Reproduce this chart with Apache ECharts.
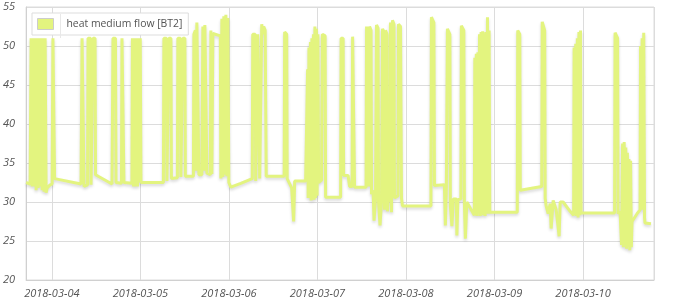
<!DOCTYPE html>
<html>
<head>
<meta charset="utf-8">
<script src="https://cdn.jsdelivr.net/npm/echarts@6/dist/echarts.min.js"></script>
<style>
html,body{margin:0;padding:0;background:#fff;}
#chart{width:680px;height:300px;}
</style>
</head>
<body>
<div id="chart"></div>
<script>
var seriesName = 'heat medium flow [BT2]';
var yTicks = [20, 25, 30, 35, 40, 45, 50, 55];
var xRange = ['2018-03-03 17:02', '2018-03-10 19:14'];

var flowTimes = [
'2018-03-03 17:02','2018-03-03 18:07','2018-03-03 18:23','2018-03-03 18:39','2018-03-03 18:56','2018-03-03 19:12','2018-03-03 19:28','2018-03-03 19:45','2018-03-03 20:01','2018-03-03 20:17','2018-03-03 20:33','2018-03-03 20:50','2018-03-03 21:06','2018-03-03 21:22','2018-03-03 21:38','2018-03-03 21:54','2018-03-03 22:11','2018-03-03 22:27','2018-03-03 22:43','2018-03-03 23:32',
'2018-03-04 00:05','2018-03-04 00:18','2018-03-04 00:34','2018-03-04 00:45','2018-03-04 07:55','2018-03-04 08:12','2018-03-04 08:36','2018-03-04 08:44','2018-03-04 09:41','2018-03-04 09:49','2018-03-04 10:30','2018-03-04 10:38','2018-03-04 11:02','2018-03-04 11:10','2018-03-04 11:43','2018-03-04 11:51','2018-03-04 16:19','2018-03-04 16:35','2018-03-04 17:15','2018-03-04 17:24','2018-03-04 18:53','2018-03-04 19:01','2018-03-04 19:25','2018-03-04 19:33','2018-03-04 21:43','2018-03-04 21:51','2018-03-04 22:08','2018-03-04 22:24','2018-03-04 22:40','2018-03-04 22:56','2018-03-04 23:13','2018-03-04 23:29','2018-03-04 23:45','2018-03-04 23:58',
'2018-03-05 00:10','2018-03-05 06:15','2018-03-05 06:23','2018-03-05 07:04','2018-03-05 07:12','2018-03-05 07:36','2018-03-05 07:44','2018-03-05 08:17','2018-03-05 08:25','2018-03-05 10:02','2018-03-05 10:10','2018-03-05 10:51','2018-03-05 10:59','2018-03-05 11:23','2018-03-05 11:31','2018-03-05 12:04','2018-03-05 12:12','2018-03-05 14:23','2018-03-05 14:31','2018-03-05 14:55','2018-03-05 15:03','2018-03-05 15:19','2018-03-05 15:44','2018-03-05 15:52','2018-03-05 16:40','2018-03-05 16:57','2018-03-05 17:13','2018-03-05 17:29','2018-03-05 17:54','2018-03-05 18:02','2018-03-05 18:59','2018-03-05 19:07','2018-03-05 19:23','2018-03-05 19:39','2018-03-05 21:41','2018-03-05 21:49','2018-03-05 22:06','2018-03-05 22:22','2018-03-05 22:38','2018-03-05 22:54','2018-03-05 23:11','2018-03-05 23:27','2018-03-05 23:43','2018-03-05 23:59',
'2018-03-06 00:31','2018-03-06 03:13','2018-03-06 06:20','2018-03-06 06:28','2018-03-06 07:08','2018-03-06 07:16','2018-03-06 07:41','2018-03-06 07:49','2018-03-06 08:13','2018-03-06 08:21','2018-03-06 08:46','2018-03-06 08:54','2018-03-06 09:10','2018-03-06 09:26','2018-03-06 09:50','2018-03-06 10:07','2018-03-06 14:59','2018-03-06 15:07','2018-03-06 15:40','2018-03-06 15:48','2018-03-06 17:01','2018-03-06 17:33','2018-03-06 17:50','2018-03-06 20:48','2018-03-06 21:12','2018-03-06 21:20','2018-03-06 21:29','2018-03-06 21:42','2018-03-06 21:53','2018-03-06 22:06','2018-03-06 22:17','2018-03-06 22:30','2018-03-06 22:42','2018-03-06 22:55','2018-03-06 23:06','2018-03-06 23:19','2018-03-06 23:30','2018-03-06 23:43','2018-03-06 23:55',
'2018-03-07 00:08','2018-03-07 00:19','2018-03-07 01:08','2018-03-07 01:20','2018-03-07 02:05','2018-03-07 02:13','2018-03-07 06:17','2018-03-07 06:25','2018-03-07 06:58','2018-03-07 07:06','2018-03-07 08:19','2018-03-07 08:43','2018-03-07 09:24','2018-03-07 09:32','2018-03-07 09:56','2018-03-07 10:04','2018-03-07 13:11','2018-03-07 13:19','2018-03-07 13:44','2018-03-07 13:52','2018-03-07 14:08','2018-03-07 14:32','2018-03-07 14:40','2018-03-07 15:05','2018-03-07 15:21','2018-03-07 15:45','2018-03-07 16:01','2018-03-07 16:26','2018-03-07 16:34','2018-03-07 16:58','2018-03-07 17:22','2018-03-07 17:39','2018-03-07 18:03','2018-03-07 18:11','2018-03-07 18:27','2018-03-07 18:52','2018-03-07 19:00','2018-03-07 19:16','2018-03-07 19:40','2018-03-07 19:48','2018-03-07 20:05','2018-03-07 20:21','2018-03-07 20:45','2018-03-07 20:53','2018-03-07 21:50','2018-03-07 21:58','2018-03-07 22:31','2018-03-07 22:47','2018-03-07 23:03',
'2018-03-08 06:46','2018-03-08 06:54','2018-03-08 07:34','2018-03-08 07:43','2018-03-08 10:25','2018-03-08 10:41','2018-03-08 10:57','2018-03-08 11:14','2018-03-08 11:54','2018-03-08 12:02','2018-03-08 12:27','2018-03-08 12:51','2018-03-08 13:40','2018-03-08 13:48','2018-03-08 14:04','2018-03-08 14:53','2018-03-08 15:01','2018-03-08 15:41','2018-03-08 15:50','2018-03-08 16:06','2018-03-08 16:30','2018-03-08 18:32','2018-03-08 18:40','2018-03-08 18:52','2018-03-08 19:04','2018-03-08 19:17','2018-03-08 19:30','2018-03-08 19:43','2018-03-08 19:56','2018-03-08 20:09','2018-03-08 20:22','2018-03-08 20:35','2018-03-08 20:48','2018-03-08 21:01','2018-03-08 21:14','2018-03-08 21:27','2018-03-08 21:40','2018-03-08 21:53','2018-03-08 22:06','2018-03-08 22:19','2018-03-08 22:32','2018-03-08 22:43',
'2018-03-09 06:10','2018-03-09 06:18','2018-03-09 06:51','2018-03-09 06:59','2018-03-09 12:48','2018-03-09 12:56','2018-03-09 13:36','2018-03-09 13:44','2018-03-09 14:00','2018-03-09 14:33','2018-03-09 15:05','2018-03-09 15:21','2018-03-09 15:54','2018-03-09 16:26','2018-03-09 16:43','2018-03-09 17:31','2018-03-09 17:48','2018-03-09 18:36','2018-03-09 20:30','2018-03-09 21:27','2018-03-09 21:35','2018-03-09 21:48','2018-03-09 22:01','2018-03-09 22:14','2018-03-09 22:27','2018-03-09 22:40','2018-03-09 22:53','2018-03-09 23:06','2018-03-09 23:19','2018-03-09 23:29',
'2018-03-10 08:33','2018-03-10 08:41','2018-03-10 09:22','2018-03-10 09:30','2018-03-10 10:02','2018-03-10 10:26','2018-03-10 10:43','2018-03-10 10:56','2018-03-10 11:09','2018-03-10 11:22','2018-03-10 11:35','2018-03-10 11:48','2018-03-10 12:01','2018-03-10 12:14','2018-03-10 12:27','2018-03-10 12:40','2018-03-10 12:53','2018-03-10 13:06','2018-03-10 13:17','2018-03-10 14:38','2018-03-10 15:27','2018-03-10 15:35','2018-03-10 15:48','2018-03-10 16:01','2018-03-10 16:14','2018-03-10 16:27','2018-03-10 16:40','2018-03-10 16:48','2018-03-10 18:25'
];

var flowValues = [
32.5,32.3,51,32,51,32,51,31.5,51,31.8,51,32,51,31.5,51,31.3,51,31.2,31.8,32.2,
32.3,51,51,33.0,32.3,51,51,32,32.2,51,51,32.2,32.3,51,51,33.5,32.3,51,51,32.5,32.4,51,51,32.5,32.4,51,32,51,32,51,32,51,32.5,51,
32.5,32.5,51,51,32.7,32.7,51,51,33,33.1,51,51,33.2,33.2,51,51,33.3,33.3,51.5,52,34,53,52.8,33.5,33.5,52.5,34,52.7,52.5,33.7,33.5,52,33.6,51.6,51.3,33,53.5,33.2,53.8,33.5,54,33.3,53.6,32.5,
31.9,32.4,33.0,51.5,51.5,32.7,32.8,51.5,51.5,33,33,52.8,51.5,52.5,52,33.3,33.3,51.8,51.5,33,31.8,27.5,32.7,32.7,32.5,47,30.5,49.8,30.5,50.5,30.2,51,30.5,51.5,30.3,52.5,30.5,52.2,30.8,
51.5,32.5,32.8,51.5,51.3,30.6,30.6,51,51,33.4,33.4,32,32,51.2,51,31.9,31.9,52.5,52.3,32,52.5,52,31,31.5,27.6,30.5,52.7,52.3,30,27,30,52.2,51.8,29,52,51.5,28.8,31,30,53,28.7,53.3,52.8,30.5,30.8,52.8,52.5,30.5,29.5,
29.5,53.7,53,32.1,32.2,27,32,52.2,51.5,29.5,26.9,30.4,30.4,25.7,30.3,30.4,52.6,52,30,25.3,30,28.3,48.5,28.5,49,28.2,49.2,28.5,51.5,28.2,51.8,28.4,51.9,28.3,51.6,28.2,51.8,28.5,53.7,28.5,52,28.7,
28.7,52,51.5,31.5,32.0,53.1,52,30.5,29.5,28.5,29.8,26.6,30.2,30,29,25.6,30,30,28.8,28.3,49.8,28.3,50.3,28.2,51,28,51.8,28.3,52,28.6,
28.6,51.7,51,28.5,28.8,24.5,37.5,24.2,37.7,24.5,37,24,36.3,24.3,35.5,23.8,35.3,24.2,27.5,28.5,29,50,29,51,29,51.7,28,27.3,27.2
];

var lineColor = '#e3f47f';

function pad(n){ return (n < 10 ? '0' : '') + n; }

var chart = echarts.init(document.getElementById('chart'), null, {renderer: 'canvas'});
var data = flowTimes.map(function (t, i) { return [t, flowValues[i]]; });

chart.setOption({
  animation: false,
  backgroundColor: '#fff',
  grid: {left: 25, right: 26, top: 7, bottom: 20, show: true, borderColor: '#dcdcdc', borderWidth: 1, containLabel: false},
  legend: {
    left: 32, top: 13,
    orient: 'vertical',
    backgroundColor: '#fff',
    borderColor: '#dddddd',
    borderWidth: 1,
    borderRadius: 0,
    padding: [5, 6, 5, 5],
    itemWidth: 16, itemHeight: 11,
    data: [{name: seriesName, icon: 'rect', itemStyle: {color: lineColor, borderColor: '#cccccc', borderWidth: 1}}],
    textStyle: {fontFamily: 'Open Sans', fontSize: 10.4, color: '#545454', padding: [0, 0, 0, 8]}
  },
  graphic: [{type: 'line', shape: {x1: 60.5, y1: 14, x2: 60.5, y2: 38}, style: {stroke: '#e8e8e8', lineWidth: 1}, z: 100}],
  xAxis: {
    type: 'time',
    min: xRange[0], max: xRange[1],
    minInterval: 86400000, maxInterval: 86400000,
    axisLine: {show: true, lineStyle: {color: '#d0d0d0'}},
    axisTick: {show: false},
    splitLine: {show: true, lineStyle: {color: '#dcdcdc', width: 1}},
    axisLabel: {
      margin: 8, color: '#545454', fontStyle: 'italic', fontFamily: 'Open Sans', fontSize: 11,
      showMinLabel: false, showMaxLabel: false,
      formatter: function (v) { var d = new Date(v); return d.getFullYear() + '-' + pad(d.getMonth() + 1) + '-' + pad(d.getDate()); }
    }
  },
  yAxis: {
    type: 'value',
    min: yTicks[0], max: yTicks[yTicks.length - 1], interval: 5,
    axisLine: {show: true, lineStyle: {color: '#d0d0d0'}},
    axisTick: {show: false},
    splitLine: {show: true, lineStyle: {color: '#dcdcdc', width: 1}},
    axisLabel: {margin: 11, color: '#545454', fontStyle: 'italic', fontFamily: 'Open Sans', fontSize: 11}
  },
  series: [{
    name: seriesName,
    type: 'line',
    data: data,
    symbol: 'none',
    lineStyle: {color: lineColor, width: 3, shadowColor: 'rgba(0,0,0,0.15)', shadowBlur: 3, shadowOffsetY: 2},
    itemStyle: {color: lineColor}
  }]
});
</script>
</body>
</html>
